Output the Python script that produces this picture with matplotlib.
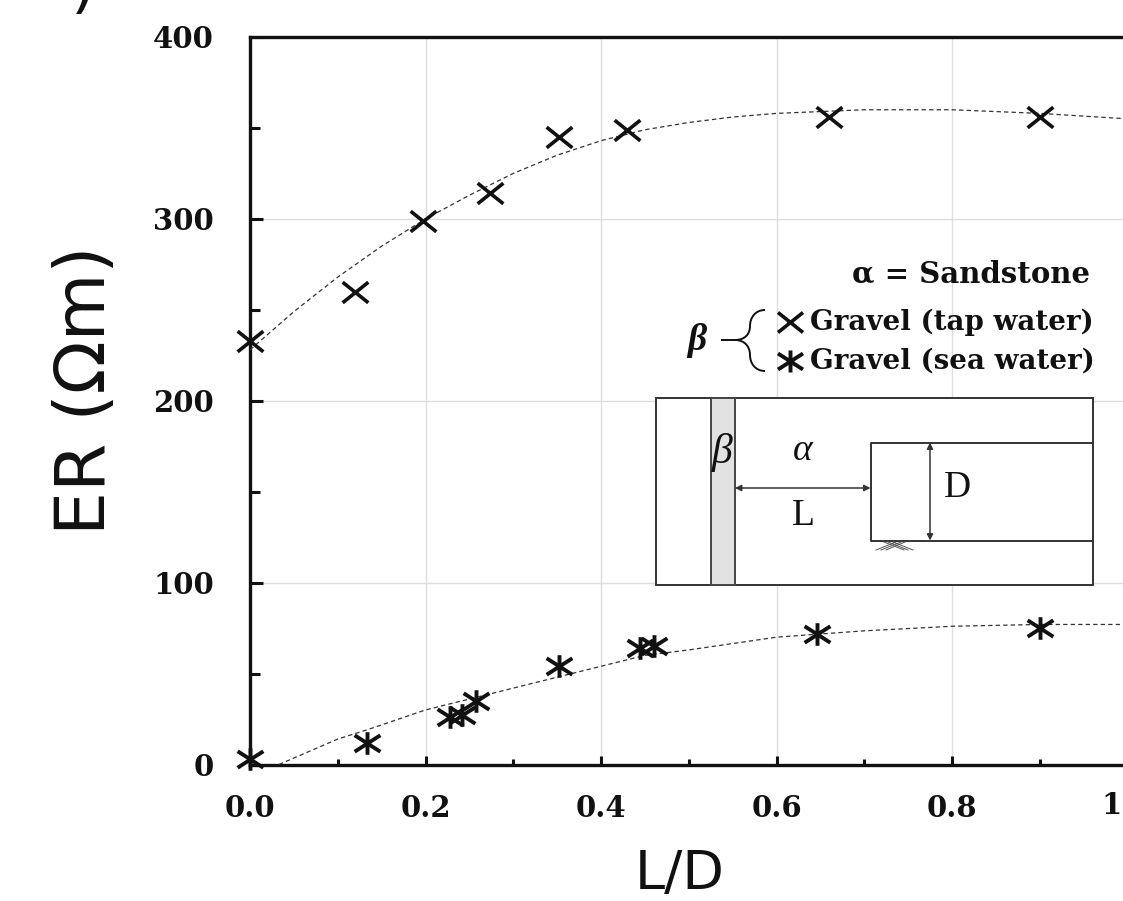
import matplotlib
matplotlib.use("Agg")
import matplotlib.pyplot as plt
from matplotlib.patches import Rectangle, PathPatch
from matplotlib.path import Path

# measured points
tap_x = [0.0, 0.12, 0.197, 0.274, 0.352, 0.43, 0.66, 0.9]
tap_y = [233, 260, 299, 314, 345, 349, 356, 356]
sea_x = [0.0, 0.133, 0.228, 0.242, 0.258, 0.352, 0.445, 0.46, 0.646, 0.9]
sea_y = [3, 12, 26, 27, 35, 54, 64, 65, 72, 75]

# fitted trend lines
tap_fit_x = [0.0, 0.05, 0.1, 0.15, 0.2, 0.25, 0.3, 0.35, 0.4, 0.45, 0.5, 0.55, 0.6, 0.7, 0.8, 0.9, 1.0]
tap_fit_y = [228, 249, 268, 285, 300, 313, 325, 335, 343, 349, 353, 356, 358, 360, 360, 358, 355]
sea_fit_x = [0.033, 0.1, 0.133, 0.2, 0.3, 0.4, 0.45, 0.5, 0.6, 0.7, 0.8, 0.9, 1.0]
sea_fit_y = [0, 14, 19, 30, 42, 54, 60, 63, 70, 73.5, 76, 77, 77]

x_major = [0.0, 0.2, 0.4, 0.6, 0.8, 1.0]
x_labels = ["0.0", "0.2", "0.4", "0.6", "0.8", ""]
x_minor = [0.1, 0.3, 0.5, 0.7, 0.9]
y_major = [0, 100, 200, 300, 400]
y_minor = [50, 150, 250, 350]

W, H = 1123, 901
SERIF = "Liberation Serif"
WIDE = "DejaVu Serif"   # the original lettering is stretched sideways, this is closest
INK = "#111111"

# markers are wider than tall in the reference
CROSS = Path([(-1.25, -1), (1.25, 1), (-1.25, 1), (1.25, -1)],
             [Path.MOVETO, Path.LINETO, Path.MOVETO, Path.LINETO])
STAR = Path([(-1.25, -0.8), (1.25, 0.8), (-1.25, 0.8), (1.25, -0.8), (0, -1.1), (0, 1.1)],
            [Path.MOVETO, Path.LINETO, Path.MOVETO, Path.LINETO, Path.MOVETO, Path.LINETO])

fig = plt.figure(figsize=(W / 100, H / 100), dpi=100, facecolor="white")
ax = fig.add_axes([250 / W, 1 - 764.5 / H, 877.5 / W, 727.5 / H])

ax.plot(tap_fit_x, tap_fit_y, color="#333333", lw=0.9, ls=(0, (3.5, 2.5)), zorder=3)
ax.plot(sea_fit_x, sea_fit_y, color="#333333", lw=0.9, ls=(0, (3.5, 2.5)), zorder=3)
ax.plot(tap_x, tap_y, ls="none", marker=CROSS, ms=18.5, mew=2.6, mfc="none", color=INK,
        clip_on=False, zorder=6)
ax.plot(sea_x, sea_y, ls="none", marker=STAR, ms=18.5, mew=2.8, mfc="none", color=INK,
        clip_on=False, zorder=6)

ax.set_xlim(0, 1)
ax.set_ylim(0, 400)
ax.set_xticks(x_major, x_labels)
ax.set_xticks(x_minor, minor=True)
ax.set_yticks(y_major)
ax.set_yticks(y_minor, minor=True)
ax.grid(True, which="major", color="#dddddd", lw=1.0)
ax.set_axisbelow(True)
ax.tick_params(axis="x", which="major", direction="in", length=6.5, width=2.2, pad=21, color=INK)
ax.tick_params(axis="x", which="minor", direction="in", length=4.5, width=2.2, color=INK)
ax.tick_params(axis="y", which="major", direction="in", length=9, width=2.2, pad=26, color=INK)
ax.tick_params(axis="y", which="minor", direction="in", length=7, width=2.2, color=INK)
for lab in ax.get_xticklabels() + ax.get_yticklabels():
    lab.set_fontfamily(WIDE)
    lab.set_fontweight("bold")
    lab.set_fontsize(21)
    lab.set_color(INK)
for name in ["left", "top", "bottom"]:
    ax.spines[name].set_linewidth(2.4)
    ax.spines[name].set_color(INK)
ax.spines["right"].set_visible(False)

# inset schematic + legend, in picture pixels
ov = fig.add_axes([0, 0, 1, 1], facecolor="none")
ov.set_xlim(0, W)
ov.set_ylim(H, 0)
ov.axis("off")

ov.add_patch(Rectangle((656, 397.5), 437, 187.5, fc="white", ec="#333333", lw=1.4))
ov.add_patch(Rectangle((710.5, 397.5), 24.5, 187.5, fc="#e2e2e2", ec="#444444", lw=1.4))
ov.plot([1093, 870.5, 870.5, 1093], [442.5, 442.5, 540.5, 540.5], color="#333333", lw=1.4)
for p0, p1 in [((735, 488), (870.5, 488)), ((930, 442.5), (930, 540.5))]:
    ov.annotate("", xy=p1, xytext=p0,
                arrowprops=dict(arrowstyle="<|-|>", color="#333333", lw=1.1,
                                mutation_scale=9, shrinkA=0, shrinkB=0))
# little hatch under the corner
for xa, xb, ya, yb in [(876, 896, 550, 542), (881, 901, 550, 542), (886, 905, 550, 542),
                       (893, 913, 542, 550), (888, 908, 542, 550), (884, 904, 542, 550)]:
    ov.plot([xa, xb], [ya, yb], color="#555555", lw=0.7)

text_kw = dict(family=SERIF, color=INK)
ov.text(722.5, 452, "\u03b2", fontsize=30, style="italic", ha="center", va="center", **text_kw)
ov.text(803, 451, "\u03b1", fontsize=27, style="italic", ha="center", va="center", **text_kw)
ov.text(803, 516, "L", fontsize=27, ha="center", va="center", **text_kw)
ov.text(957, 488, "D", fontsize=27, ha="center", va="center", **text_kw)

wide_kw = dict(family=WIDE, color=INK, fontweight="bold", va="center")
ov.text(1090, 274, "\u03b1 = Sandstone", fontsize=21, ha="right", **wide_kw)
ov.text(810, 322, "Gravel (tap water)", fontsize=20, ha="left", **wide_kw)
ov.text(810, 361, "Gravel (sea water)", fontsize=20, ha="left", **wide_kw)
ov.text(1112, 806, "1", fontsize=21, ha="center", **wide_kw)
ov.plot([790], [322], marker=CROSS, ms=18, mew=2.6, mfc="none", color=INK)
ov.plot([790], [361], marker=STAR, ms=18, mew=2.8, mfc="none", color=INK)
ov.text(697, 340, "\u03b2", fontsize=27, fontweight="bold", style="italic", ha="center", va="center", **text_kw)

brace = Path([(765, 310), (755, 310), (750, 318), (750, 326),
              (750, 334), (745, 340), (735, 340),
              (745, 340), (750, 347), (750, 355),
              (750, 363), (755, 371), (765, 371)],
             [Path.MOVETO] + [Path.CURVE4] * 12)
ov.add_patch(PathPatch(brace, fc="none", ec=INK, lw=1.4))
ov.plot([722, 738], [340, 340], color=INK, lw=1.4)

# axis titles and the cut-off panel letter
ov.text(85, 390, "ER (\u03a9m)", fontsize=50, rotation=90, ha="center", va="center",
        family="DejaVu Sans", color=INK)
ov.text(680, 874, "L/D", fontsize=39, ha="center", va="center",
        family="DejaVu Sans", color=INK)
ov.text(83, 19, ")", fontsize=46, ha="center", va="bottom", family="DejaVu Sans", color=INK)

fig.savefig("out.png", dpi=100)
